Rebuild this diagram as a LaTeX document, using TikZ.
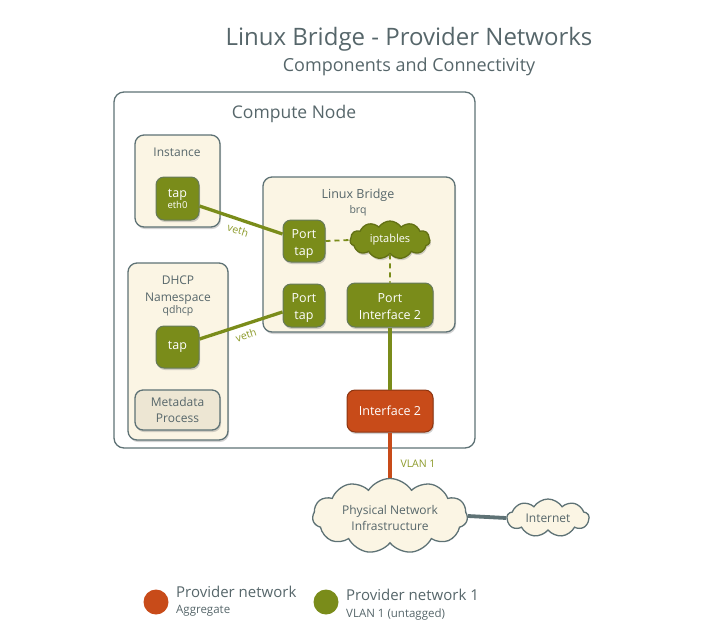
\documentclass[tikz,border=0pt]{standalone}
\usepackage{fontspec}
\setmainfont{Open Sans}
\usetikzlibrary{shapes.symbols,shadows}
\definecolor{olive}{HTML}{7A8C1A}
\definecolor{rust}{HTML}{C84B19}
\definecolor{cream}{HTML}{FBF5E4}
\definecolor{creamdark}{HTML}{EDE6D3}
\definecolor{edge}{HTML}{5E7275}
\definecolor{txt}{HTML}{56666A}
\definecolor{vlan}{HTML}{8C9A2A}
\newcommand{\topstrut}[1]{\rule{0pt}{#1}}
\tikzset{
  shd/.style={drop shadow={shadow xshift=1pt,shadow yshift=-2pt,opacity=0.35}},
  box/.style={draw=edge,line width=1.3pt,fill=cream,rounded corners=9pt,shd},
  gnode/.style={draw=edge!70!olive,line width=1pt,fill=olive,rounded corners=8pt,text=white,align=center,font=\fontsize{12.5}{14}\selectfont,inner sep=0pt,shd},
  rnode/.style={gnode,fill=rust,draw=rust!70!black},
  lbl/.style={text=txt,align=center,inner sep=0pt},
  link/.style={olive,line width=3.3pt},
  dlink/.style={olive,line width=1.8pt,dash pattern=on 5pt off 4pt},
  vethl/.style={text=vlan,font=\fontsize{10.5}{12}\selectfont,inner sep=0pt},
  cloudn/.style={cloud,cloud puffs=11,cloud puff arc=115,aspect=2.4,draw=edge,line width=1.3pt,fill=cream,inner sep=0pt,align=center,text=txt}
}
\begin{document}
\begin{tikzpicture}[x=1pt,y=-1pt]
\useasboundingbox (0,0) rectangle (728,641);
% titles
\node[lbl,font=\fontsize{24}{27}\selectfont] (title) at (409,39) {Linux Bridge - Provider Networks};
\node[lbl,font=\fontsize{18}{21}\selectfont] (subtitle) at (409,67) {Components and Connectivity};
% compute node
\draw[edge,line width=1.3pt,rounded corners=10pt] (114,92) rectangle (475,448);
\node[lbl,font=\fontsize{17.5}{20}\selectfont] (cn) at (294,114) {Compute Node};
% instance
\node[box,minimum width=85pt,minimum height=92pt,inner sep=0pt] (inst) at (177.5,181) {};
\node[lbl,font=\fontsize{12}{14}\selectfont] (instl) at (177,152) {Instance};
\node[gnode,minimum width=43pt,minimum height=43pt] (tap1) at (177.5,198.5) {tap\\[-3pt]{\fontsize{9.5}{11}\selectfont eth0}};
% dhcp
\node[box,minimum width=100pt,minimum height=177pt,inner sep=0pt] (dhcp) at (178,351.5) {};
\node[lbl,font=\fontsize{12}{16.5}\selectfont] (dhcpl) at (178,290) {DHCP\\Namespace};
\node[lbl,font=\fontsize{10.5}{12}\selectfont] (qd) at (178,311) {qdhcp};
\node[gnode,minimum width=43pt,minimum height=42pt] (tap2) at (177.5,347) {tap};
\node[box,fill=creamdark,minimum width=85pt,minimum height=40pt,rounded corners=8pt,text=txt,align=center,font=\fontsize{12}{16}\selectfont,inner sep=0pt] (meta) at (177.5,410) {Metadata\\Process};
% linux bridge
\node[box,minimum width=192pt,minimum height=155pt,inner sep=0pt] (lb) at (359,254.5) {};
\node[lbl,font=\fontsize{12.5}{14}\selectfont] (lbl1) at (358,195) {Linux Bridge};
\node[lbl,font=\fontsize{10.5}{12}\selectfont] (brq) at (358,211) {brq};
\node[gnode,minimum width=42pt,minimum height=42pt,font=\fontsize{12.5}{17}\selectfont] (pt1) at (304,241) {\topstrut{15pt}Port\\tap};
\node[gnode,minimum width=42pt,minimum height=43pt,font=\fontsize{12.5}{17}\selectfont] (pt2) at (304,305.5) {\topstrut{14pt}Port\\tap};
\node[gnode,minimum width=86pt,minimum height=44pt,font=\fontsize{12.5}{17}\selectfont] (pi2) at (390,305) {\topstrut{13pt}Port\\Interface 2};
\node[cloudn,fill=olive,draw=olive!80!black,text=white,minimum width=80pt,minimum height=38pt,font=\fontsize{11}{13}\selectfont,shd] (ipt) at (390,240) {iptables};
% interface 2
\node[rnode,minimum width=86pt,minimum height=42pt] (if2) at (390,411) {Interface 2};
% clouds
\node[cloudn,minimum width=155pt,minimum height=62pt,font=\fontsize{12}{16}\selectfont] (phys) at (390,516) {\topstrut{13pt}Physical Network\\Infrastructure};
\node[cloudn,cloud puffs=9,minimum width=82pt,minimum height=38pt,font=\fontsize{12}{14}\selectfont] (inet) at (548,518) {Internet};
% links
\draw[link] (tap1.east) ++(0,7.5) coordinate (a1) -- (pt1.west |- 0,234) coordinate (b1);
\node[vethl,rotate=-18] (veth1) at (238,230) {veth};
\draw[link] (tap2.east) ++(0,-8) coordinate (a2) -- (pt2.west |- 0,312) coordinate (b2);
\node[vethl,rotate=18] (veth2) at (246,335) {veth};
\draw[dlink] (pt1.east) -- (ipt.west);
\draw[dlink] (ipt.south) -- (pi2.north);
\draw[link] (pi2.south) -- (if2.north);
\draw[rust,line width=3.3pt] (if2.south) -- (phys.north);
\node[vethl] (vl) at (418,464) {VLAN 1};
\draw[edge,line width=3.8pt] (phys.east) -- (inet.west);
% legend
\fill[rust] (156,602) circle (12.5pt);
\node[anchor=west,lbl,font=\fontsize{15}{16}\selectfont] (l1) at (176,592) {Provider network};
\node[anchor=west,lbl,font=\fontsize{11.5}{13}\selectfont] (l1b) at (176,611) {Aggregate};
\fill[olive] (326,602) circle (12.5pt);
\node[anchor=west,lbl,font=\fontsize{15}{16}\selectfont] (l2) at (346,595) {Provider network 1};
\node[anchor=west,lbl,font=\fontsize{11.5}{13}\selectfont] (l2b) at (346,614) {VLAN 1 (untagged)};
\end{tikzpicture}
\end{document}
